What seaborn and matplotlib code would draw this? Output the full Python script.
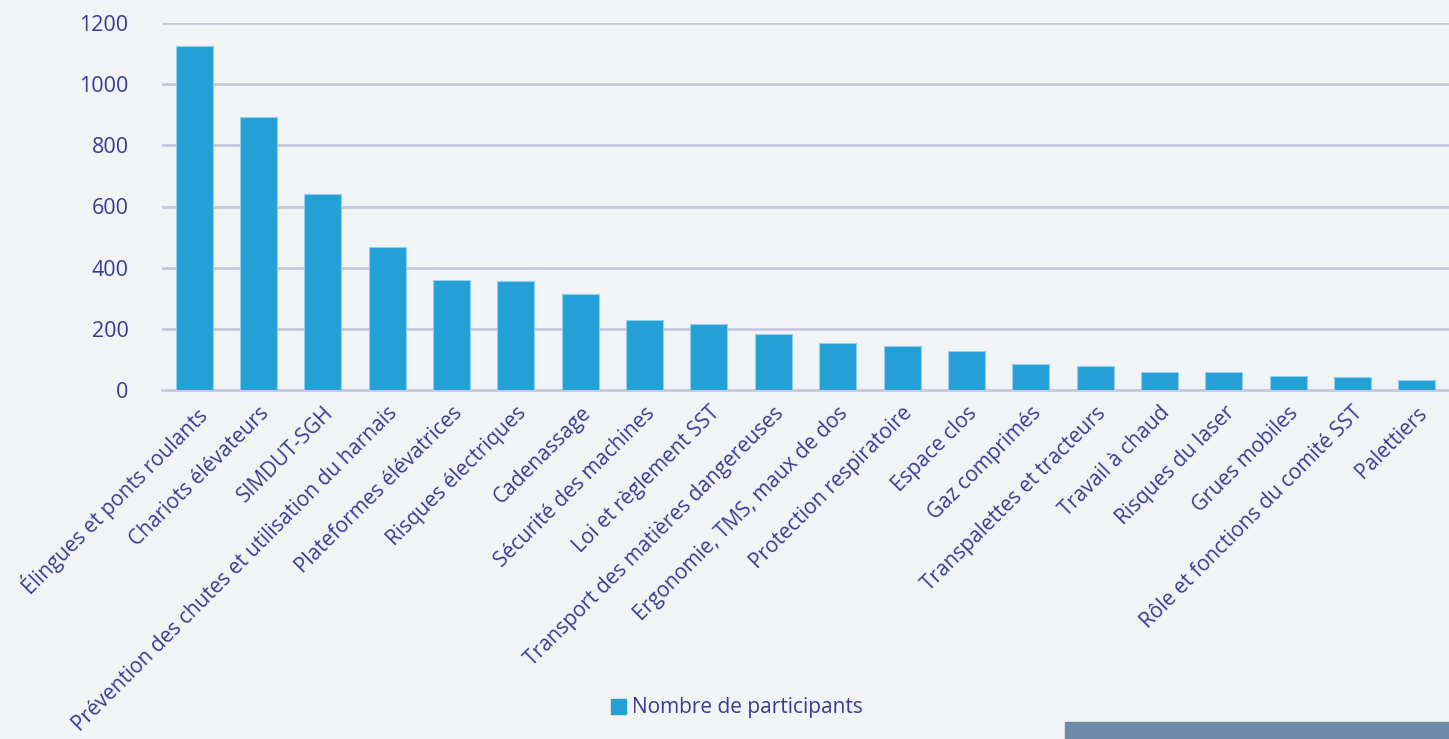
import matplotlib
matplotlib.use("Agg")
import matplotlib.pyplot as plt
import matplotlib.patches as mpatches
import seaborn as sns
import pandas as pd
import numpy as np

categories = [
    "Élingues et ponts roulants",
    "Chariots élévateurs",
    "SIMDUT-SGH",
    "Prévention des chutes et utilisation du harnais",
    "Plateformes élévatrices",
    "Risques électriques",
    "Cadenassage",
    "Sécurité des machines",
    "Loi et règlement SST",
    "Transport des matières dangereuses",
    "Ergonomie, TMS, maux de dos",
    "Protection respiratoire",
    "Espace clos",
    "Gaz comprimés",
    "Transpalettes et tracteurs",
    "Travail à chaud",
    "Risques du laser",
    "Grues mobiles",
    "Rôle et fonctions du comité SST",
    "Palettiers",
]
participants = [1125, 893, 641, 467, 359, 355, 314, 230, 215, 182,
                154, 143, 127, 85, 78, 59, 58, 45, 42, 32]
yticks = [0, 200, 400, 600, 800, 1000, 1200]
series_name = "Nombre de participants"

BG = "#F1F3F5"
BAR = "#24A0D6"
TEXT = "#3B3B96"
GRID = "#C9C6E1"

sns.set_style("white")
plt.rcParams["font.family"] = ["Open Sans", "DejaVu Sans"]

df = pd.DataFrame({"Formation": categories, "Participants": participants})

fig = plt.figure(figsize=(14.49, 7.39), dpi=100, facecolor=BG)
ax = fig.add_axes([162 / 1449, 1 - 390 / 739, 1 - 162 / 1449, (390 - 23) / 739])
ax.set_facecolor(BG)

sns.barplot(data=df, x="Formation", y="Participants", color=BAR, width=0.575,
            edgecolor="#8FD0EE", linewidth=0.8, saturation=1, ax=ax, zorder=3)

ax.set_xlim(-0.5, len(categories) - 0.5)
ax.set_ylim(0, 1200)
ax.set_yticks(yticks)
ax.set_yticklabels([str(v) for v in yticks], fontsize=15.5, color=TEXT)
ax.yaxis.grid(True, color=GRID, linewidth=2, zorder=0)
ax.set_axisbelow(True)

ax.set_xticks(range(len(categories)))
ax.set_xticklabels(categories, rotation=45, ha="right", rotation_mode="anchor",
                   fontsize=15, color=TEXT)
ax.set_xticks(np.arange(-0.5, len(categories), 1), minor=True)
ax.tick_params(axis="x", which="major", length=0, pad=9)
ax.tick_params(axis="x", which="minor", length=6, width=2, color=GRID)
ax.tick_params(axis="y", length=0, pad=24)

for side in ["left", "right", "top"]:
    ax.spines[side].set_visible(False)
ax.spines["bottom"].set_color(GRID)
ax.spines["bottom"].set_linewidth(2)

ax.set_xlabel("")
ax.set_ylabel("")

handle = mpatches.Patch(color=BAR, label=series_name)
fig.legend(handles=[handle], loc="center", bbox_to_anchor=(737 / 1449, 1 - 708 / 739),
           frameon=False, fontsize=15, labelcolor=TEXT, handlelength=0.75,
           handleheight=0.75, handletextpad=0.3)

fig.patches.append(mpatches.Rectangle((1065 / 1449, 0), 1 - 1065 / 1449, 17 / 739,
                                      transform=fig.transFigure, color="#6E8CAA",
                                      zorder=5))

fig.savefig("out.png", dpi=100, facecolor=BG)
